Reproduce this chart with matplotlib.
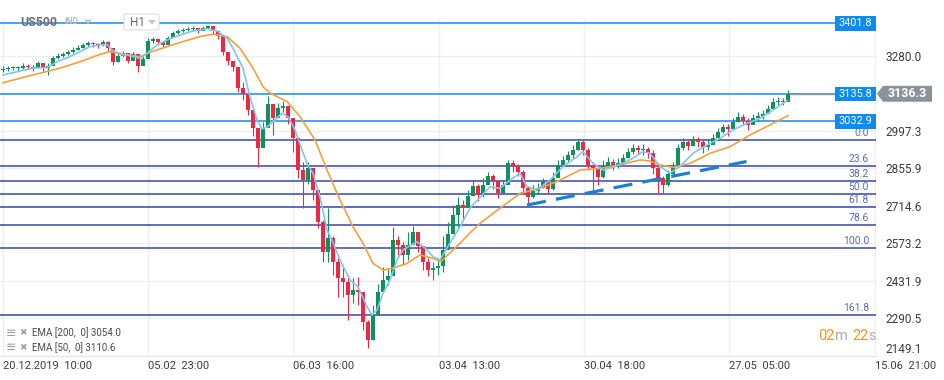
import numpy as np
import matplotlib
matplotlib.use("Agg")
from matplotlib import pyplot as plt
from matplotlib.patches import Rectangle, Polygon, FancyBboxPatch

plt.rcParams['font.family'] = ['Roboto', 'DejaVu Sans']

# ---- data (one candle ~ 16 hourly bars) ----
first_open = 3226
closes = [3230, 3234, 3234, 3234, 3241, 3237, 3234, 3253, 3234, 3241,
          3271, 3279, 3286, 3294, 3302, 3309, 3320, 3328, 3324, 3320,
          3332, 3309, 3256, 3279, 3290, 3260, 3286, 3241, 3268, 3335,
          3343, 3332, 3320, 3347, 3366, 3373, 3377, 3381, 3384, 3373,
          3384, 3392, 3373, 3354, 3294, 3260, 3237, 3158, 3136, 3075,
          3007, 2932, 3007, 3098, 3045, 3083, 3090, 3045, 2970, 2849,
          2811, 2857, 2774, 2653, 2540, 2593, 2502, 2442, 2427, 2378,
          2397, 2389, 2276, 2208, 2302, 2389, 2434, 2449, 2585, 2566,
          2529, 2566, 2615, 2563, 2502, 2472, 2480, 2487, 2548, 2608,
          2679, 2717, 2706, 2751, 2789, 2755, 2793, 2827, 2808, 2762,
          2793, 2876, 2864, 2842, 2781, 2747, 2770, 2781, 2804, 2777,
          2819, 2868, 2887, 2906, 2925, 2955, 2925, 2868, 2857, 2823,
          2864, 2879, 2868, 2876, 2894, 2917, 2932, 2925, 2928, 2913,
          2857, 2819, 2793, 2834, 2864, 2932, 2955, 2940, 2966, 2955,
          2936, 2943, 2970, 2992, 3011, 3004, 3030, 3049, 3034, 3019,
          3045, 3053, 3060, 3079, 3105, 3109, 3105, 3136.3]
highs = [3241, 3241, 3241, 3241, 3253, 3249, 3245, 3260, 3245, 3253,
         3279, 3290, 3294, 3302, 3313, 3320, 3328, 3335, 3332, 3328,
         3339, 3335, 3294, 3290, 3298, 3286, 3294, 3283, 3279, 3347,
         3351, 3343, 3332, 3354, 3373, 3381, 3384, 3388, 3392, 3384,
         3392, 3396, 3388, 3366, 3347, 3283, 3256, 3204, 3181, 3121,
         3045, 2970, 3030, 3128, 3098, 3102, 3109, 3087, 3015, 2887,
         2879, 2879, 2827, 2736, 2661, 2706, 2600, 2517, 2491, 2453,
         2442, 2446, 2378, 2284, 2340, 2419, 2483, 2480, 2634, 2600,
         2578, 2615, 2638, 2600, 2563, 2517, 2502, 2517, 2600, 2653,
         2717, 2747, 2736, 2774, 2811, 2796, 2819, 2842, 2834, 2804,
         2811, 2887, 2887, 2872, 2849, 2789, 2793, 2800, 2819, 2811,
         2842, 2887, 2902, 2921, 2943, 2966, 2962, 2932, 2879, 2864,
         2887, 2898, 2891, 2894, 2909, 2932, 2947, 2943, 2947, 2936,
         2925, 2868, 2827, 2849, 2879, 2947, 2970, 2962, 2977, 2974,
         2962, 2966, 2985, 3007, 3023, 3023, 3045, 3068, 3060, 3045,
         3060, 3068, 3075, 3094, 3121, 3124, 3121, 3151]
lows = [3219, 3222, 3226, 3222, 3230, 3230, 3222, 3237, 3222, 3207,
        3256, 3268, 3275, 3283, 3290, 3302, 3309, 3317, 3313, 3309,
        3317, 3294, 3245, 3256, 3275, 3253, 3271, 3219, 3245, 3290,
        3328, 3320, 3313, 3324, 3351, 3362, 3369, 3373, 3373, 3366,
        3377, 3381, 3362, 3343, 3283, 3245, 3222, 3143, 3113, 3056,
        2977, 2860, 2970, 3056, 2981, 3056, 3068, 3023, 2917, 2819,
        2706, 2796, 2736, 2630, 2502, 2502, 2453, 2370, 2370, 2284,
        2348, 2340, 2246, 2178, 2208, 2302, 2389, 2416, 2502, 2529,
        2495, 2510, 2585, 2540, 2472, 2449, 2434, 2453, 2465, 2578,
        2630, 2634, 2661, 2717, 2766, 2732, 2747, 2796, 2777, 2744,
        2759, 2811, 2842, 2827, 2759, 2717, 2744, 2759, 2781, 2762,
        2774, 2823, 2864, 2879, 2894, 2925, 2906, 2849, 2774, 2793,
        2819, 2857, 2849, 2857, 2872, 2894, 2909, 2909, 2906, 2894,
        2834, 2762, 2762, 2789, 2830, 2887, 2925, 2925, 2940, 2936,
        2913, 2925, 2947, 2962, 2989, 2977, 3007, 3030, 3019, 3000,
        3023, 3034, 3041, 3064, 3090, 3094, 3094, 3117]

ema200_pos = [0, 3.4, 7.4, 11.4, 15.4, 19.4, 21.4, 23.4, 26, 27.4,
              29.4, 32.8, 36, 39.4, 42, 44.8, 47.4, 50, 52, 53.4,
              56.8, 59.4, 62.4, 64.8, 67.4, 70, 72, 74, 76, 78,
              80.8, 83.4, 86, 87.6, 90, 91.4, 93.4, 95.4, 99.4, 103.4,
              107.4, 111.4, 115.4, 119.4, 123.4, 127.4, 129.4, 131.4, 134, 137.4,
              141.4, 145.4, 149.4, 153.4, 157]
ema200_val = [3178, 3195, 3214, 3233, 3257, 3285, 3295, 3289, 3280, 3276,
              3293, 3314, 3333, 3352, 3361, 3352, 3308, 3233, 3163, 3139,
              3107, 3050, 2962, 2849, 2736, 2635, 2573, 2497, 2472, 2479,
              2497, 2529, 2516, 2504, 2548, 2573, 2612, 2648, 2705, 2761,
              2780, 2811, 2849, 2855, 2868, 2887, 2883, 2868, 2859, 2874,
              2912, 2937, 2981, 3019, 3054]
ema50_pos = [0, 3.4, 6, 8.8, 10.8, 12.8, 15.4, 17.4, 19.4, 20.8,
             21.8, 23.4, 25.4, 27.4, 28.8, 30.8, 32.8, 35.4, 38, 40.8,
             42.8, 44.8, 46, 48, 49.4, 50.8, 51.8, 52.8, 54, 55.8,
             57, 58.4, 59.8, 60.8, 62, 63.4, 64.8, 65.8, 67.4, 69.4,
             71, 72.8, 73.8, 74.8, 76, 77.4, 78.8, 80, 82.8, 84.8,
             86, 87.4, 89.4, 91.4, 93.4, 97.4, 99.4, 101.4, 103.4, 104.8,
             106.8, 109.4, 112, 114.8, 116, 118, 120, 122, 125.4, 128,
             129.4, 131.4, 133.4, 135.4, 138, 140.8, 143.4, 146, 148.8, 151.4,
             154, 156.8]
ema50_val = [3207, 3222, 3233, 3235, 3257, 3272, 3295, 3314, 3320, 3323,
             3302, 3285, 3280, 3270, 3289, 3320, 3339, 3358, 3373, 3381,
             3373, 3346, 3308, 3233, 3125, 3038, 3004, 3011, 3031, 3063,
             3050, 3000, 2925, 2874, 2837, 2748, 2623, 2585, 2510, 2434,
             2409, 2334, 2302, 2321, 2384, 2434, 2510, 2548, 2579, 2548,
             2522, 2510, 2574, 2635, 2706, 2786, 2780, 2811, 2837, 2786,
             2774, 2811, 2862, 2899, 2918, 2874, 2849, 2859, 2887, 2918,
             2912, 2862, 2837, 2862, 2912, 2943, 2969, 3000, 3025, 3044,
             3075, 3110.6]

levels = [3401.8, 3135.8, 3032.9]
last_price = 3136.3
fib_top = 2962.0
fib_bottom = 2555.0
fib_ratios = [0.0, 23.6, 38.2, 50.0, 61.8, 78.6, 100.0, 161.8]
trend_x = [104.8, 148.7]
trend_y = [2717, 2881]

y_ticks = [2149.1, 2290.5, 2431.9, 2573.2, 2714.6, 2855.9, 2997.3, 3138.6, 3280.0]
x_ticks = [0, 29, 58, 87.2, 116.2, 145.2, 174.4]
x_labels = ["20.12.2019  10:00", "05.02  23:00", "06.03  16:00", "03.04  13:00",
            "30.04  18:00", "27.05  05:00", "15.06  21:00"]

# ---- styles ----
up_col = "#12905c"
down_col = "#ec2842"
level_col = "#2894ee"
box_col = "#0c8cf2"
fib_col = "#3546a8"
fib_txt = "#5a69bf"
txt_col = "#3c3c3c"

fig = plt.figure(figsize=(9.45, 3.8), dpi=100)
ax = fig.add_axes([0, 0.064, 876 / 945, 0.8886])

closes = np.array(closes, dtype=float)
highs = np.array(highs, dtype=float)
lows = np.array(lows, dtype=float)
opens = np.r_[first_open, closes[:-1]]
x = np.arange(len(closes))
colors = np.where(closes >= opens, up_col, down_col)

# grid
ax.set_axisbelow(True)
ax.grid(color="#efefef", lw=1.0, zorder=0)

# horizontal levels
for lvl in levels:
    ax.axhline(lvl, color=level_col, lw=1.2, zorder=2)

# fibonacci
for r in fib_ratios:
    p = fib_top - r / 100 * (fib_top - fib_bottom)
    ax.axhline(p, color=fib_col, lw=1.1, zorder=2)
    ax.text(0.992, p + 7, f"{r:.1f}", transform=ax.get_yaxis_transform(),
            ha="right", va="bottom", fontsize=7.5, color=fib_txt, zorder=6)

# candles
ax.vlines(x, lows, highs, colors=colors, lw=0.8, zorder=3)
body = np.maximum(np.abs(closes - opens), 2.5)
ax.bar(x, body, bottom=np.minimum(opens, closes), width=0.62, color=colors,
       linewidth=0, zorder=4)

# EMAs
ax.plot(ema200_pos, ema200_val, color="#f6a03c", lw=1.2, zorder=5)
ax.plot(ema50_pos, ema50_val, color="#80c6ee", lw=1.2, zorder=5)

# trend line
ax.plot(trend_x, trend_y, color="#1f7fcf", lw=2.3, dashes=(6, 3.2), zorder=6,
        solid_capstyle="butt", dash_capstyle="butt")

# current price line
ax.plot([x[-1], 174.6], [last_price, last_price], color="#8c969b", lw=1.0, zorder=2)

ax.set_xlim(-0.6, 174.6)
ax.set_ylim(2149.1, 3422.0)

# axes
ax.yaxis.tick_right()
ax.set_yticks(y_ticks)
ax.set_yticklabels(["" if abs(t - 3138.6) < 0.01 else f"{t:.1f}" for t in y_ticks])
ax.set_xticks(x_ticks)
ax.set_xticklabels(x_labels)
ax.tick_params(axis="x", length=0, pad=4, labelsize=8, colors=txt_col)
ax.tick_params(axis="y", length=0, pad=6.5, labelsize=8.5, colors=txt_col)
for lbl in ax.get_xticklabels():
    lbl.set_ha("left")
ax.get_yticklabels()[0].set_va("bottom")
for s in ["top", "left", "right"]:
    ax.spines[s].set_visible(False)
ax.spines["bottom"].set_color("#e4e4e4")

# price boxes
ytr = ax.get_yaxis_transform()
for lvl in levels:
    ax.add_patch(Rectangle((0.953, lvl - 28), 0.047, 56, transform=ytr,
                           facecolor=box_col, edgecolor="none", zorder=7, clip_on=False))
    ax.text(0.9765, lvl, f"{lvl:.1f}", transform=ytr, ha="center", va="center",
            fontsize=7.8, color="white", zorder=8, clip_on=False)

ax.add_patch(Polygon([(1.001, last_price), (1.008, last_price + 30), (1.064, last_price + 30),
                      (1.064, last_price - 30), (1.008, last_price - 30)],
                     closed=True, transform=ytr, facecolor="#8a9398", edgecolor="none",
                     zorder=9, clip_on=False))
ax.text(1.036, last_price, f"{last_price:.1f}", transform=ytr, ha="center", va="center",
        fontsize=9, fontweight="bold", color="white", zorder=10, clip_on=False)


def fx(px):
    return px / 945


def fy(py):
    return 1 - py / 380


# header
fig.text(fx(20), fy(22), "US500", fontsize=8.8, fontweight="bold", color="#676f74", va="center")
fig.text(fx(64), fy(22), "IND", fontsize=6.3, fontweight="bold", color="#b8bdc1", va="center")
fig.patches.append(Polygon([(fx(84), fy(19.5)), (fx(92), fy(19.5)), (fx(88), fy(24))],
                           closed=True, transform=fig.transFigure, facecolor="#c3c7ca",
                           edgecolor="none"))
fig.patches.append(FancyBboxPatch((fx(124), fy(30)), fx(35), 16 / 380,
                                  boxstyle="round,pad=0,rounding_size=0.004",
                                  transform=fig.transFigure, facecolor="white",
                                  edgecolor="#dadee1", lw=0.8))
fig.text(fx(130), fy(22), "H1", fontsize=8.5, color="#676f74", va="center")
fig.patches.append(Polygon([(fx(148), fy(20)), (fx(156), fy(20)), (fx(152), fy(24.5))],
                           closed=True, transform=fig.transFigure, facecolor="#c3c7ca",
                           edgecolor="none"))

# EMA legend
for yy, label in [(333, "EMA [200,  0] 3054.0"), (348, "EMA [50,  0] 3110.6")]:
    fig.text(fx(6), fy(yy), "≡", fontsize=9, color="#a0a0a0", va="center",
             family=["DejaVu Sans"])
    fig.text(fx(19), fy(yy), "✖", fontsize=6.5, color="#a0a0a0", va="center",
             family=["DejaVu Sans"])
    fig.text(fx(32), fy(yy), label, fontsize=7, color="#4a4a4a", va="center")

# countdown
for px, s, c in [(818, "02", "#f7931e"), (835, "m", "#b0b0b0"),
                 (852, "22", "#f7931e"), (868.5, "s", "#b0b0b0")]:
    fig.text(fx(px), fy(336), s, fontsize=10.5, color=c, va="center")

fig.savefig("out.png", dpi=100)
